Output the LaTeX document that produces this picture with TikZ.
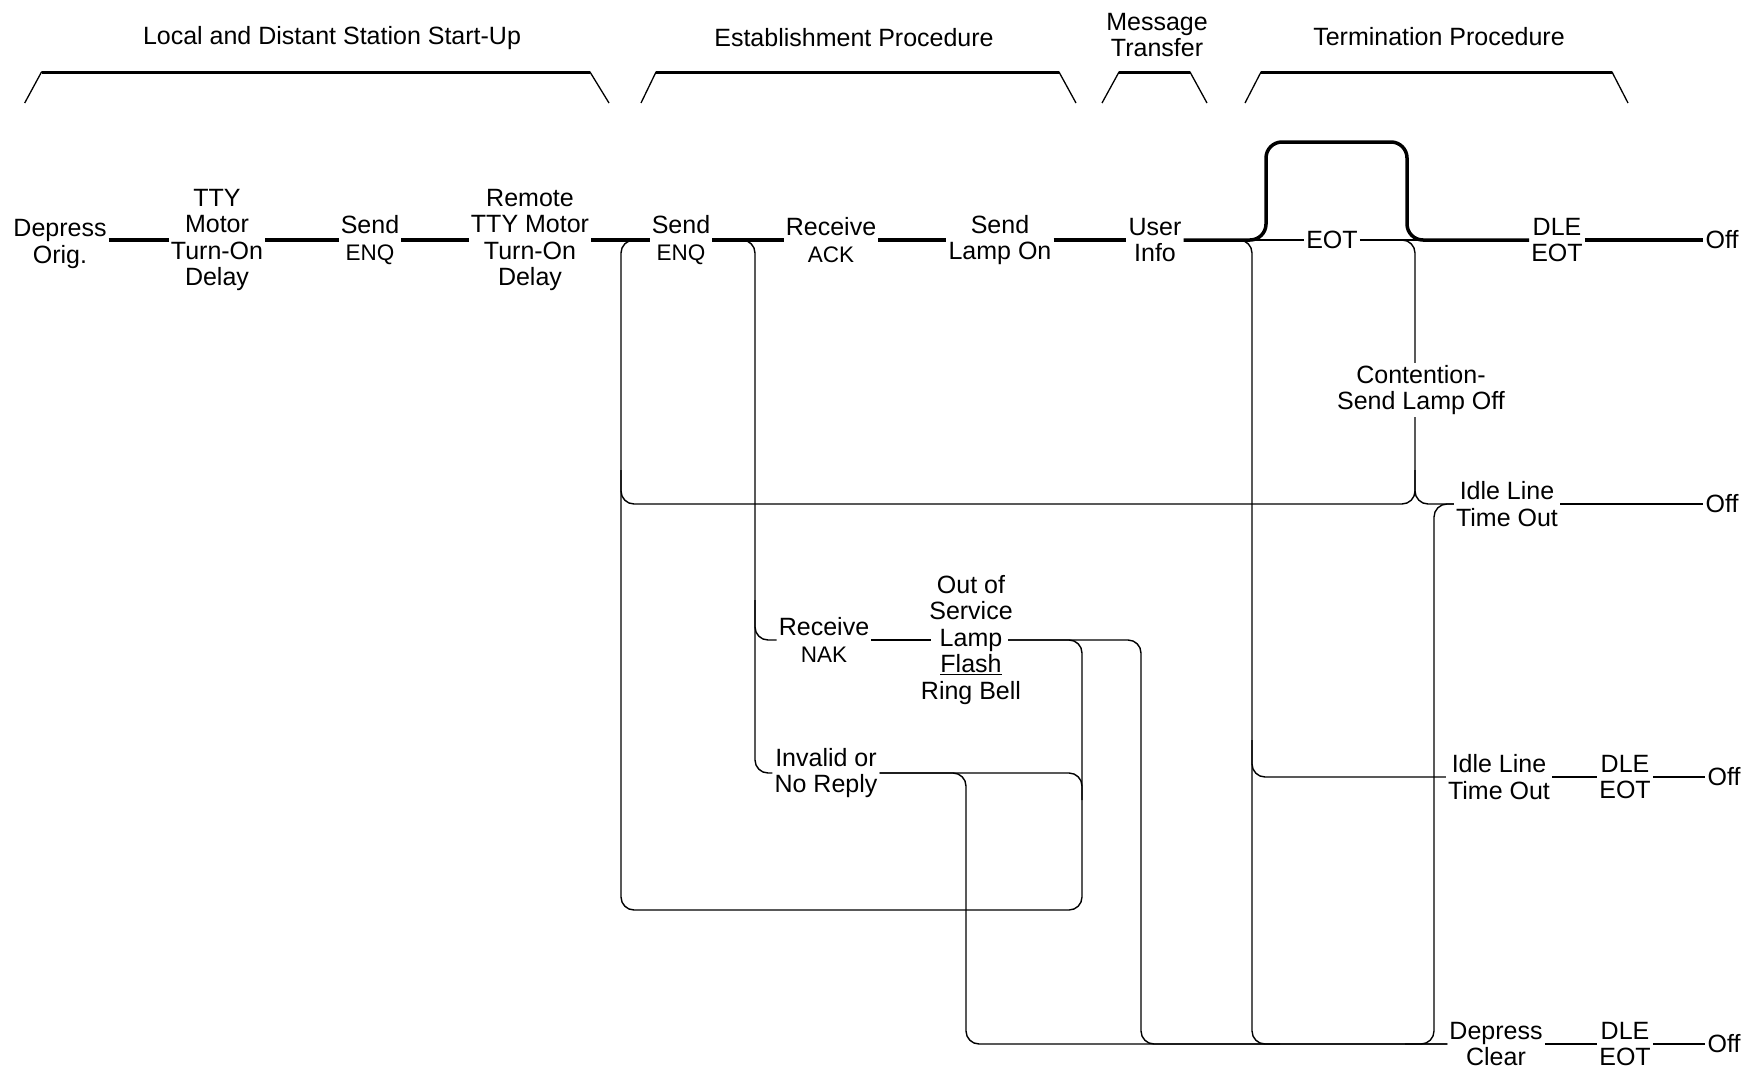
\documentclass[tikz,border=0pt]{standalone}
\usepackage{fontspec}
\setmainfont{Liberation Sans}
\newcommand\smc[1]{{\fontsize{22.5}{25}\selectfont #1}}
\begin{document}
\begin{tikzpicture}[x=1pt,y=-1pt,
  txt/.style={font=\fontsize{25}{26.5}\selectfont, align=center, inner sep=2pt},
  thk/.style={line width=3.5pt},
  thn/.style={line width=1.4pt},
  brn/.style={line width=1.4pt, rounded corners=13pt},
  bump/.style={line width=3.5pt, rounded corners=16pt},
  bleg/.style={line width=1.3pt},
  btop/.style={line width=3pt}]
\useasboundingbox (0,0) rectangle (1761,1074);

% headers
\node[txt] (h1) at (332,38) {Local and Distant Station Start-Up};
\node[txt] (h2) at (854,38) {Establishment Procedure};
\node[txt] (h3) at (1157,35) {Message\\Transfer};
\node[txt] (h4) at (1439,37) {Termination Procedure};

\draw[bleg] (24.7,103) -- (41.5,72) -- (590,72) -- (609,103);
\draw[btop] (41.5,72) -- (590,72);
\draw[bleg] (641,103) -- (656,72) -- (1059,72) -- (1076,103);
\draw[btop] (656,72) -- (1059,72);
\draw[bleg] (1102,103) -- (1119,72) -- (1190,72) -- (1207,103);
\draw[btop] (1119,72) -- (1190,72);
\draw[bleg] (1245,103) -- (1261,72) -- (1612,72) -- (1628,103);
\draw[btop] (1261,72) -- (1612,72);

% main line nodes
\node[txt] (dep) at (60,244) {Depress\\Orig.};
\node[txt] (tty) at (217,240) {TTY\\Motor\\Turn-On\\Delay};
\node[txt] (enq1) at (370,240) {Send\\\smc{ENQ}};
\node[txt] (rem) at (530,240) {Remote\\TTY Motor\\Turn-On\\Delay};
\node[txt] (enq2) at (681,240) {Send\\\smc{ENQ}};
\node[txt] (ack) at (831,240) {Receive\\\smc{ACK}};
\node[txt] (lon) at (1000,240) {Send\\Lamp On};
\node[txt] (usr) at (1155,240) {User\\Info};
\node[txt] (eot) at (1332,240) {EOT};
\node[txt] (dle1) at (1557,240) {DLE\\EOT};
\node[txt] (off1) at (1722,240) {Off};

% other nodes
\node[txt] (cont) at (1421,390) {Contention-\\Send Lamp Off};
\node[txt] (idle1) at (1507,504) {Idle Line\\Time Out};
\node[txt] (off2) at (1722,504) {Off};
\node[txt] (rnak) at (824,640) {Receive\\\smc{NAK}};
\node[txt] (oos) at (971,640) {Out of\\Service\\Lamp\\\underline{Flash}\\Ring Bell};
\node[txt] (inv) at (826,773) {Invalid or\\No Reply};
\node[txt] (idle2) at (1499,777) {Idle Line\\Time Out};
\node[txt] (dle2) at (1625,777) {DLE\\EOT};
\node[txt] (off3) at (1724,777) {Off};
\node[txt] (clr) at (1496,1044) {Depress\\Clear};
\node[txt] (dle3) at (1625,1044) {DLE\\EOT};
\node[txt] (off4) at (1724,1044) {Off};

% junction coordinates
\coordinate (As) at (645,240);
\coordinate (A0) at (621,240);
\coordinate (A1) at (621,910);
\coordinate (Ai) at (621,470);
\coordinate (Aj) at (621,504);
\coordinate (E0) at (1082,640);
\coordinate (E1) at (1082,910);
\coordinate (E2) at (1082,773);
\coordinate (E3) at (1082,800);
\coordinate (F0) at (1141,640);
\coordinate (F1) at (1141,1044);
\coordinate (G0) at (966,773);
\coordinate (G1) at (966,1044);
\coordinate (Bs) at (740,240);
\coordinate (B0) at (755,240);
\coordinate (B1) at (755,773);
\coordinate (Bn0) at (755,600);
\coordinate (Bn) at (755,640);
\coordinate (Cs) at (1236,240);
\coordinate (C0) at (1252,240);
\coordinate (C1) at (1252,1044);
\coordinate (Ce) at (1280,1044);
\coordinate (Ci) at (1252,740);
\coordinate (C2) at (1252,777);
\coordinate (Ks) at (1395,240);
\coordinate (K0) at (1415,240);
\coordinate (K) at (1415,504);
\coordinate (Kup) at (1415,470);
\coordinate (D0) at (1434,504);
\coordinate (D1) at (1434,1044);
\coordinate (De) at (1405,1044);
\coordinate (bl) at (1266,240);
\coordinate (blt) at (1266,142);
\coordinate (brt) at (1407,142);
\coordinate (br) at (1407,240);
\coordinate (oosW) at ([xshift=12pt]oos.west);
\coordinate (oosE) at ([xshift=-15pt]oos.east);

% main line
\draw[thk] (dep.east |- tty.west) -- (tty.west);
\draw[thk] (tty.east) -- (enq1.west);
\draw[thk] (enq1.east) -- (rem.west);
\draw[thk] (rem.east) -- (enq2.west);
\draw[thk] (enq2.east) -- (ack.west);
\draw[thk] (ack.east) -- (lon.west);
\draw[thk] (lon.east) -- (usr.west);
\draw[thn] (usr.east) -- (eot.west);
\draw[thn] (eot.east) -- (dle1.west);
\draw[bump] (usr.east) -- (bl) -- (blt) -- (brt) -- (br) -- (dle1.west);
\draw[thk] (dle1.east) -- (off1.west);

% branches
\draw[brn] (oosE) -- (E0) -- (E1) -- (A1) -- (A0) -- (As);
\draw[brn] (oosE) -- (F0) -- (F1) -- (clr.west);
\draw[brn] (Ai) -- (Aj) -- (K) -- (Kup);
\draw[brn] (Ks) -- (K0) -- (K0 |- cont.north);
\draw[brn] (K |- cont.south) -- (K) -- (idle1.west);
\draw[brn] (idle1.west) -- (D0) -- (D1) -- (De);
\draw[brn] (Cs) -- (C0) -- (C1) -- (Ce);
\draw[brn] (Ci) -- (C2) -- (idle2.west);
\draw[brn] (Bs) -- (B0) -- (B1) -- (inv.west);
\draw[brn] (Bn0) -- (Bn) -- (rnak.west);
\draw[thn] (rnak.east) -- (oosW);
\draw[brn] (inv.east) -- (G0) -- (G1) -- (clr.west);
\draw[brn] (inv.east) -- (E2) -- (E3);

% right side
\draw[thn] (idle1.east) -- (off2.west);
\draw[thn] (idle2.east) -- (dle2.west);
\draw[thn] (dle2.east) -- (off3.west);
\draw[thn] (clr.east) -- (dle3.west);
\draw[thn] (dle3.east) -- (off4.west);
\end{tikzpicture}
\end{document}
